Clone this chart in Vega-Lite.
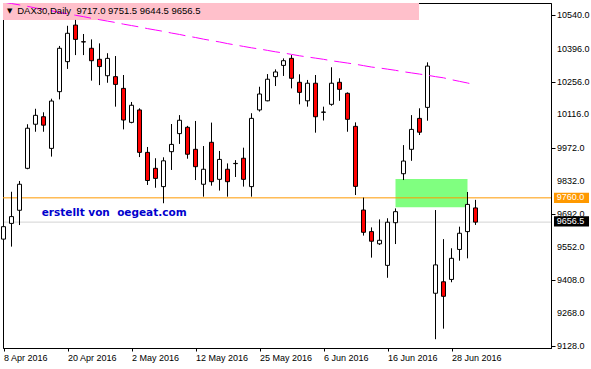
{
  "$schema": "https://vega.github.io/schema/vega-lite/v6.json",
  "width": 548,
  "height": 345,
  "autosize": {"type": "none"},
  "padding": {"left": 3, "top": 3, "right": 40, "bottom": 21},
  "background": "white",
  "config": {"view": {"stroke": "black", "strokeWidth": 1}, "font": "Liberation Sans", "axis": {"labelOverlap": false}},
  "datasets": {
    "candles": [
      {"i":0,"date":"2016-04-08","o":9584,"h":9712,"l":9570,"c":9637,"ma":10595},
      {"i":1,"date":"2016-04-11","o":9651,"h":9786,"l":9552,"c":9680,"ma":10589},
      {"i":2,"date":"2016-04-12","o":9707,"h":9832,"l":9644,"c":9818,"ma":10583},
      {"i":3,"date":"2016-04-13","o":9886,"h":10074,"l":9882,"c":10057,"ma":10577},
      {"i":4,"date":"2016-04-14","o":10074,"h":10140,"l":10042,"c":10112,"ma":10570},
      {"i":5,"date":"2016-04-15","o":10106,"h":10125,"l":10042,"c":10070,"ma":10564},
      {"i":6,"date":"2016-04-18","o":9971,"h":10183,"l":9936,"c":10173,"ma":10558},
      {"i":7,"date":"2016-04-19","o":10213,"h":10408,"l":10180,"c":10398,"ma":10551},
      {"i":8,"date":"2016-04-20","o":10341,"h":10494,"l":10310,"c":10462,"ma":10545},
      {"i":9,"date":"2016-04-21","o":10497,"h":10519,"l":10369,"c":10436,"ma":10539},
      {"i":10,"date":"2016-04-22","o":10426,"h":10459,"l":10369,"c":10425,"ma":10533},
      {"i":11,"date":"2016-04-25","o":10398,"h":10436,"l":10260,"c":10345,"ma":10526},
      {"i":12,"date":"2016-04-26","o":10351,"h":10419,"l":10241,"c":10320,"ma":10520},
      {"i":13,"date":"2016-04-27","o":10281,"h":10377,"l":10251,"c":10355,"ma":10514},
      {"i":14,"date":"2016-04-28","o":10277,"h":10365,"l":10149,"c":10244,"ma":10508},
      {"i":15,"date":"2016-04-29","o":10227,"h":10284,"l":10052,"c":10092,"ma":10501},
      {"i":16,"date":"2016-05-02","o":10082,"h":10169,"l":10078,"c":10155,"ma":10495},
      {"i":17,"date":"2016-05-03","o":10135,"h":10142,"l":9934,"c":9954,"ma":10489},
      {"i":18,"date":"2016-05-04","o":9954,"h":9977,"l":9815,"c":9834,"ma":10482},
      {"i":19,"date":"2016-05-05","o":9886,"h":9929,"l":9803,"c":9843,"ma":10476},
      {"i":20,"date":"2016-05-06","o":9808,"h":9933,"l":9737,"c":9918,"ma":10470},
      {"i":21,"date":"2016-05-09","o":9957,"h":10075,"l":9879,"c":9988,"ma":10463},
      {"i":22,"date":"2016-05-10","o":10034,"h":10113,"l":9990,"c":10091,"ma":10457},
      {"i":23,"date":"2016-05-11","o":10061,"h":10067,"l":9927,"c":9946,"ma":10450},
      {"i":24,"date":"2016-05-12","o":9967,"h":10088,"l":9836,"c":9893,"ma":10444},
      {"i":25,"date":"2016-05-13","o":9818,"h":9981,"l":9765,"c":9882,"ma":10437},
      {"i":26,"date":"2016-05-17","o":9997,"h":10081,"l":9812,"c":9829,"ma":10431},
      {"i":27,"date":"2016-05-18","o":9839,"h":9960,"l":9791,"c":9924,"ma":10425},
      {"i":28,"date":"2016-05-19","o":9882,"h":9907,"l":9765,"c":9829,"ma":10418},
      {"i":29,"date":"2016-05-20","o":9907,"h":9921,"l":9849,"c":9906,"ma":10412},
      {"i":30,"date":"2016-05-23","o":9929,"h":9974,"l":9808,"c":9839,"ma":10406},
      {"i":31,"date":"2016-05-24","o":9808,"h":10121,"l":9765,"c":10099,"ma":10400},
      {"i":32,"date":"2016-05-25","o":10135,"h":10234,"l":10128,"c":10203,"ma":10395},
      {"i":33,"date":"2016-05-26","o":10174,"h":10288,"l":10172,"c":10266,"ma":10389},
      {"i":34,"date":"2016-05-27","o":10277,"h":10308,"l":10237,"c":10297,"ma":10383},
      {"i":35,"date":"2016-05-30","o":10325,"h":10355,"l":10280,"c":10345,"ma":10378},
      {"i":36,"date":"2016-05-31","o":10355,"h":10369,"l":10227,"c":10270,"ma":10372},
      {"i":37,"date":"2016-06-01","o":10253,"h":10287,"l":10159,"c":10210,"ma":10366},
      {"i":38,"date":"2016-06-02","o":10174,"h":10263,"l":10149,"c":10249,"ma":10361},
      {"i":39,"date":"2016-06-03","o":10249,"h":10284,"l":10038,"c":10106,"ma":10356},
      {"i":40,"date":"2016-06-06","o":10125,"h":10149,"l":10090,"c":10126,"ma":10351},
      {"i":41,"date":"2016-06-07","o":10159,"h":10317,"l":10153,"c":10249,"ma":10345},
      {"i":42,"date":"2016-06-08","o":10253,"h":10270,"l":10174,"c":10223,"ma":10340},
      {"i":43,"date":"2016-06-09","o":10206,"h":10210,"l":10042,"c":10095,"ma":10335},
      {"i":44,"date":"2016-06-10","o":10065,"h":10082,"l":9772,"c":9809,"ma":10330},
      {"i":45,"date":"2016-06-13","o":9708,"h":9761,"l":9599,"c":9613,"ma":10324},
      {"i":46,"date":"2016-06-14","o":9616,"h":9634,"l":9505,"c":9575,"ma":10318},
      {"i":47,"date":"2016-06-15","o":9564,"h":9668,"l":9559,"c":9579,"ma":10314},
      {"i":48,"date":"2016-06-16","o":9472,"h":9673,"l":9419,"c":9656,"ma":10309},
      {"i":49,"date":"2016-06-17","o":9654,"h":9715,"l":9563,"c":9701,"ma":10304},
      {"i":50,"date":"2016-06-20","o":9863,"h":9985,"l":9836,"c":9917,"ma":10298},
      {"i":51,"date":"2016-06-21","o":9967,"h":10113,"l":9918,"c":10052,"ma":10293},
      {"i":52,"date":"2016-06-22","o":10099,"h":10142,"l":10028,"c":10040,"ma":10288},
      {"i":53,"date":"2016-06-23","o":10146,"h":10338,"l":10089,"c":10322,"ma":10283},
      {"i":54,"date":"2016-06-24","o":9353,"h":9708,"l":9157,"c":9474,"ma":10277},
      {"i":55,"date":"2016-06-27","o":9402,"h":9584,"l":9202,"c":9340,"ma":10272},
      {"i":56,"date":"2016-06-28","o":9412,"h":9545,"l":9400,"c":9502,"ma":10264},
      {"i":57,"date":"2016-06-29","o":9540,"h":9637,"l":9492,"c":9609,"ma":10257},
      {"i":58,"date":"2016-06-30","o":9616,"h":9785,"l":9502,"c":9732,"ma":10250},
      {"i":59,"date":"2016-07-01","o":9717,"h":9751.5,"l":9644.5,"c":9656.5,"ma":10242}
    ],
    "one": [{"header": "DAX30,Daily \u00a09717.0 9751.5 9644.5 9656.5", "mark": "erstellt von \u00a0oegeat.com"}],
    "zone": [{"from": 49, "to": 58, "low": 9720, "high": 9840}],
    "priceTicks": [{"p": 9128}, {"p": 9268}, {"p": 9408}, {"p": 9552}, {"p": 9692}, {"p": 9832}, {"p": 9972}, {"p": 10116}, {"p": 10256}, {"p": 10396}, {"p": 10540}]
  },
  "layer": [
    {
      "mark": {"type": "bar", "size": 4, "stroke": "black", "strokeWidth": 1, "opacity": 0},
      "data": {"name": "candles"},
      "encoding": {
        "x": {"field": "i", "type": "quantitative", "scale": {"domain": [-0.0625, 68.4375], "nice": false, "zero": false, "padding": 0},
          "axis": {"orient": "bottom", "values": [0, 8, 16, 24, 32, 40, 48, 56],
            "labelExpr": "['8 Apr 2016','20 Apr 2016','2 May 2016','12 May 2016','25 May 2016','6 Jun 2016','16 Jun 2016','28 Jun 2016'][round(datum.value/8)]",
            "labelAlign": "left", "labelBaseline": "top", "labelFont": "Liberation Sans", "labelFontSize": 9, "labelColor": "black",
            "tickColor": "black", "domainColor": "black", "tickSize": 3, "labelPadding": 2, "title": null, "grid": false,
            "labelOverlap": false, "labelFlush": false, "labelBound": false}},
        "y": {"field": "o", "type": "quantitative", "scale": {"domain": [9119.5, 10591.2], "nice": false, "zero": false, "padding": 0},
          "axis": {"orient": "right", "values": [9128, 9268, 9408, 9552, 9692, 9832, 9972, 10116, 10256, 10396, 10540],
            "labels": false, "tickColor": "black", "domainColor": "black", "tickSize": 4, "title": null, "grid": false}},
        "y2": {"field": "c"}
      }
    },
    {
      "data": {"name": "priceTicks"},
      "mark": {"type": "text", "fontSize": 9, "font": "Liberation Sans", "color": "black", "align": "left", "baseline": "middle", "clip": false},
      "encoding": {
        "x": {"datum": 69.19, "type": "quantitative", "title": null},
        "y": {"field": "p", "type": "quantitative", "title": null},
        "text": {"field": "p", "type": "quantitative", "format": ".1f"}
      }
    },
    {
      "data": {"name": "one"},
      "mark": {"type": "rect", "color": "#FFC0CB"},
      "encoding": {
        "x": {"datum": -0.0625, "type": "quantitative", "title": null},
        "x2": {"datum": 51.94},
        "y": {"datum": 10518.7, "type": "quantitative", "title": null},
        "y2": {"datum": 10591.2}
      }
    },
    {
      "data": {"name": "zone"},
      "mark": {"type": "rect", "color": "#80FF80"},
      "encoding": {
        "x": {"field": "from", "type": "quantitative", "title": null},
        "x2": {"field": "to"},
        "y": {"field": "low", "type": "quantitative", "title": null},
        "y2": {"field": "high"}
      }
    },
    {
      "data": {"name": "one"},
      "mark": {"type": "rule", "color": "#D3D3D3", "strokeWidth": 1},
      "encoding": {
        "y": {"datum": 9656.5, "type": "quantitative", "title": null}
      }
    },
    {
      "data": {"name": "one"},
      "mark": {"type": "rule", "color": "#FF9900", "strokeWidth": 1},
      "encoding": {
        "y": {"datum": 9760, "type": "quantitative", "title": null}
      }
    },
    {
      "mark": {"type": "rule", "color": "black", "strokeWidth": 1},
      "data": {"name": "candles"},
      "encoding": {
        "x": {"field": "i", "type": "quantitative", "title": null},
        "y": {"field": "l", "type": "quantitative", "title": null},
        "y2": {"field": "h"}
      }
    },
    {
      "mark": {"type": "bar", "size": 4, "stroke": "black", "strokeWidth": 1},
      "data": {"name": "candles"},
      "encoding": {
        "x": {"field": "i", "type": "quantitative", "title": null},
        "y": {"field": "o", "type": "quantitative", "title": null},
        "y2": {"field": "c"},
        "fill": {"condition": {"test": "datum.c < datum.o", "value": "#FF0000"}, "value": "#FFFFFF"}
      }
    },
    {
      "mark": {"type": "line", "color": "#FF00FF", "strokeWidth": 1, "strokeDash": [17, 7], "clip": true},
      "data": {"name": "candles"},
      "encoding": {
        "x": {"field": "i", "type": "quantitative", "title": null},
        "y": {"field": "ma", "type": "quantitative", "title": null}
      }
    },
    {
      "data": {"name": "one"},
      "mark": {"type": "text", "text": "▼", "fontSize": 7, "font": "DejaVu Sans", "color": "black", "align": "center", "baseline": "middle"},
      "encoding": {
        "x": {"datum": 0.78, "type": "quantitative", "title": null},
        "y": {"datum": 10558, "type": "quantitative", "title": null}
      }
    },
    {
      "data": {"name": "one"},
      "mark": {"type": "text", "fontSize": 9.5, "font": "Liberation Sans", "color": "black", "align": "left", "baseline": "middle"},
      "encoding": {
        "x": {"datum": 1.72, "type": "quantitative", "title": null},
        "y": {"datum": 10558, "type": "quantitative", "title": null},
        "text": {"field": "header"}
      }
    },
    {
      "data": {"name": "one"},
      "mark": {"type": "text", "fontSize": 10.5, "font": "DejaVu Sans", "fontWeight": "bold", "color": "#0000CD", "align": "left", "baseline": "middle"},
      "encoding": {
        "x": {"datum": 4.78, "type": "quantitative", "title": null},
        "y": {"datum": 9694, "type": "quantitative", "title": null},
        "text": {"field": "mark"}
      }
    },
    {
      "data": {"name": "one"},
      "mark": {"type": "rect", "color": "#FF9900", "clip": false},
      "encoding": {
        "x": {"datum": 68.81, "type": "quantitative", "title": null},
        "x2": {"datum": 73.19},
        "y": {"datum": 9738, "type": "quantitative", "title": null},
        "y2": {"datum": 9782}
      }
    },
    {
      "data": {"name": "one"},
      "mark": {"type": "text", "text": "9760.0", "fontSize": 9, "font": "Liberation Sans", "color": "white", "align": "left", "baseline": "middle"},
      "encoding": {
        "x": {"datum": 69.15, "type": "quantitative", "title": null},
        "y": {"datum": 9762, "type": "quantitative", "title": null}
      }
    },
    {
      "data": {"name": "one"},
      "mark": {"type": "rect", "color": "#000000", "clip": false},
      "encoding": {
        "x": {"datum": 68.81, "type": "quantitative", "title": null},
        "x2": {"datum": 73.19},
        "y": {"datum": 9638, "type": "quantitative", "title": null},
        "y2": {"datum": 9682}
      }
    },
    {
      "data": {"name": "one"},
      "mark": {"type": "text", "text": "9656.5", "fontSize": 9, "font": "Liberation Sans", "color": "white", "align": "left", "baseline": "middle"},
      "encoding": {
        "x": {"datum": 69.15, "type": "quantitative", "title": null},
        "y": {"datum": 9660, "type": "quantitative", "title": null}
      }
    }
  ]
}
